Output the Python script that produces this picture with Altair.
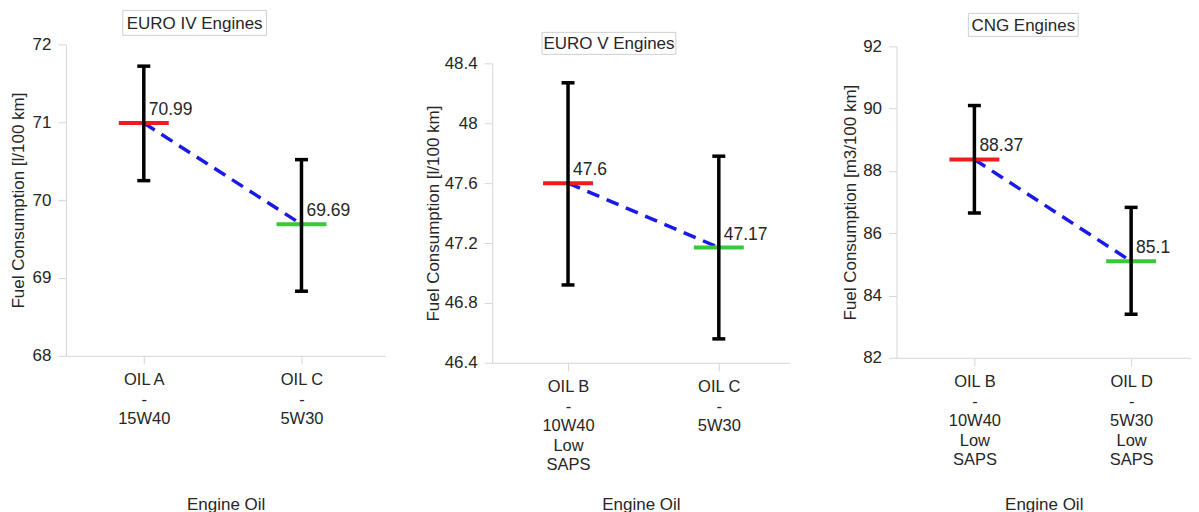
import json
import altair as alt
import pandas as pd

# ---------------- data ----------------
panel_titles = ["EURO IV Engines", "EURO V Engines", "CNG Engines"]
y_titles = ["Fuel Consumption [l/100 km]", "Fuel Consumption [l/100 km]", "Fuel Consumption [m3/100 km]"]
x_title = "Engine Oil"

oil_labels = [
    [["OIL A", "-", "15W40"], ["OIL C", "-", "5W30"]],
    [["OIL B", "-", "10W40", "Low", "SAPS"], ["OIL C", "-", "5W30"]],
    [["OIL B", "-", "10W40", "Low", "SAPS"], ["OIL D", "-", "5W30", "Low", "SAPS"]],
]
means = [[70.99, 69.69], [47.6, 47.17], [88.37, 85.1]]
mean_text = [["70.99", "69.69"], ["47.6", "47.17"], ["88.37", "85.1"]]
lows = [[70.25, 68.83], [46.92, 46.56], [86.65, 83.40]]
highs = [[71.72, 70.52], [48.27, 47.78], [90.10, 86.83]]

y_major = [
    [68, 69, 70, 71, 72],
    [46.4, 46.8, 47.2, 47.6, 48.0, 48.4],
    [82, 84, 86, 88, 90, 92],
]
y_minor = [
    [68.5, 69.5, 70.5, 71.5],
    [46.6, 47.0, 47.4, 47.8, 48.2],
    [83, 85, 87, 89, 91],
]

# ---------------- layout / style ----------------
FONT = "Liberation Sans"
TXT = "#262626"
AXC = "#d6d6d6"
RED = "#ee1c1c"
GREEN = "#3cc63c"
BLUE = "#1a1ae6"

layout = [
    dict(w=320, h=312, top=0, xdom=[-0.494, 1.532], xtp=41, ytp=10, box=(57, 201, -34, -9)),
    dict(w=298, h=319, top=19, xdom=[-0.503, 1.470], xtp=34, ytp=22, box=(50, 184, -12, 10)),
    dict(w=295, h=314, top=2, xdom=[-0.497, 1.382], xtp=39, ytp=9, box=(72, 182, -31, -8)),
]


def panel(i):
    L = layout[i]
    df = pd.DataFrame({
        "pos": [0, 1],
        "mean": means[i],
        "low": lows[i],
        "high": highs[i],
        "txt": mean_text[i],
    })
    major_js = json.dumps(y_major[i])
    ticks = sorted(y_major[i] + y_minor[i])
    lab0 = json.dumps(oil_labels[i][0])
    lab1 = json.dumps(oil_labels[i][1])

    xscale = alt.Scale(domain=L["xdom"], nice=False, zero=False)
    yscale = alt.Scale(domain=[y_major[i][0], y_major[i][-1]],
                       range=[L["h"], L["top"]], nice=False, zero=False)

    xaxis = alt.Axis(
        values=[0, 1], labelExpr=f"datum.value == 0 ? {lab0} : {lab1}",
        title=x_title, grid=False, tickSize=8, tickColor=AXC, domainColor=AXC,
        labelPadding=8, labelLineHeight=19.5, labelFontSize=16.5, labelColor=TXT,
        labelBaseline="top", labelFlush=False, labelOverlap=False,
        titleFontSize=17, titleFontWeight="normal", titleColor=TXT,
        minExtent=100, maxExtent=100, titlePadding=L["xtp"],
    )
    yaxis = alt.Axis(
        values=ticks,
        labelExpr=f"indexof({major_js}, datum.value) >= 0 ? format(datum.value, '~g') : ''",
        tickSize={"condition": {"test": f"indexof({major_js}, datum.value) >= 0", "value": 8}, "value": 3},
        title=y_titles[i], grid=False, tickColor=AXC, domainColor=AXC,
        labelPadding=7, labelFontSize=17, labelColor=TXT, labelFlush=False, labelOverlap=False,
        titleFontSize=17, titleFontWeight="normal", titleColor=TXT,
        minExtent=28, maxExtent=28, titlePadding=L["ytp"],
    )

    base = alt.Chart(df)
    x = alt.X("pos:Q", scale=xscale, axis=xaxis)
    y = alt.Y("mean:Q", scale=yscale, axis=yaxis)

    line = base.mark_line(color=BLUE, strokeWidth=3.5, strokeDash=[13, 8]).encode(x=x, y=y)
    mean_ticks = base.mark_tick(orient="horizontal", size=50, thickness=4, opacity=1).encode(
        x=alt.X("pos:Q"), y=alt.Y("mean:Q"),
        color=alt.Color("pos:N", scale=alt.Scale(domain=[0, 1], range=[RED, GREEN]), legend=None),
    )
    rule = base.mark_rule(color="black", strokeWidth=3.5).encode(
        x=alt.X("pos:Q"), y=alt.Y("low:Q"), y2="high:Q")
    cap_lo = base.mark_tick(orient="horizontal", size=13, thickness=3.5, color="black", opacity=1).encode(
        x=alt.X("pos:Q"), y=alt.Y("low:Q"))
    cap_hi = base.mark_tick(orient="horizontal", size=13, thickness=3.5, color="black", opacity=1).encode(
        x=alt.X("pos:Q"), y=alt.Y("high:Q"))
    labels = base.mark_text(align="left", baseline="alphabetic", dx=5, dy=-8,
                            fontSize=17.5, color=TXT).encode(
        x=alt.X("pos:Q"), y=alt.Y("mean:Q"), text="txt:N")

    x1, x2, y1, y2 = L["box"]
    tdf = pd.DataFrame({"t": [panel_titles[i]]})
    box = alt.Chart(tdf).mark_rect(fill="white", stroke="#cfcfcf", strokeWidth=1).encode(
        x=alt.value(x1), x2=alt.value(x2), y=alt.value(y1), y2=alt.value(y2))
    btxt = alt.Chart(tdf).mark_text(fontSize=17, color=TXT, baseline="middle", align="center").encode(
        x=alt.value((x1 + x2) / 2), y=alt.value((y1 + y2) / 2 + 1), text="t:N")

    return alt.layer(line, mean_ticks, rule, cap_lo, cap_hi, labels, box, btxt).properties(
        width=L["w"], height=L["h"])


chart = alt.hconcat(panel(0), panel(1), panel(2), spacing=107, bounds="flush").properties(
    padding={"left": 2, "top": 1, "right": 0, "bottom": 0}
).configure(font=FONT).configure_view(stroke=None)

chart.save("out.html", embed_options={"renderer": "svg", "actions": False})
